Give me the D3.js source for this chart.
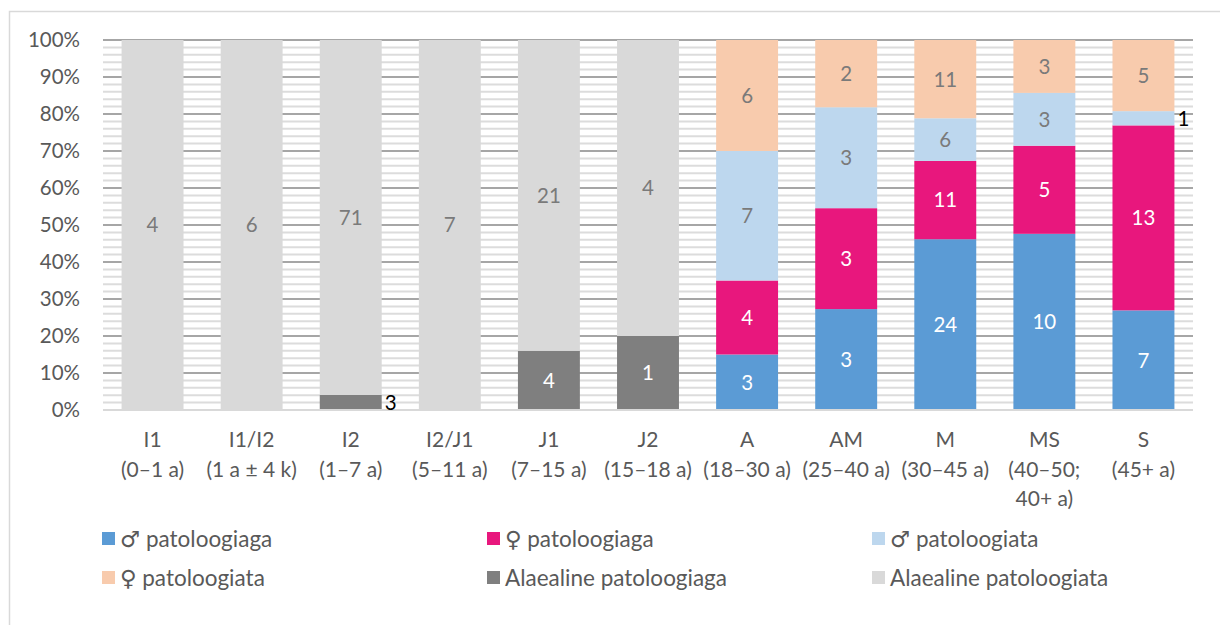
<!DOCTYPE html>
<html>
<head>
<meta charset="utf-8">
<script src="https://cdn.jsdelivr.net/npm/d3@7"></script>
<style>
  html, body { margin: 0; padding: 0; background: #fff; }
  svg { display: block; font-family: Lato, "DejaVu Sans", sans-serif; }
</style>
</head>
<body>
<svg id="chart" width="1220" height="625"></svg>
<script>
// Age groups (two- or three-line axis labels)
const categories = ["I1", "I1/I2", "I2", "I2/J1", "J1", "J2", "A", "AM", "M", "MS", "S"];
const categoryLines = [
  ["I1", "(0–1 a)"],
  ["I1/I2", "(1 a ± 4 k)"],
  ["I2", "(1–7 a)"],
  ["I2/J1", "(5–11 a)"],
  ["J1", "(7–15 a)"],
  ["J2", "(15–18 a)"],
  ["A", "(18–30 a)"],
  ["AM", "(25–40 a)"],
  ["M", "(30–45 a)"],
  ["MS", "(40–50;", "40+ a)"],
  ["S", "(45+ a)"]
];

// Counts per group, one array per series (stacked bottom → top)
const malePathology     = [0, 0, 0, 0, 0, 0, 3, 3, 24, 10, 7];
const femalePathology   = [0, 0, 0, 0, 0, 0, 4, 3, 11, 5, 13];
const maleNoPathology   = [0, 0, 0, 0, 0, 0, 7, 3, 6, 3, 1];
const femaleNoPathology = [0, 0, 0, 0, 0, 0, 6, 2, 11, 3, 5];
const juvPathology      = [0, 0, 3, 0, 4, 1, 0, 0, 0, 0, 0];
const juvNoPathology    = [4, 6, 71, 7, 21, 4, 0, 0, 0, 0, 0];

const seriesNames = [
  "♂ patoloogiaga", "♀ patoloogiaga", "♂ patoloogiata",
  "♀ patoloogiata", "Alaealine patoloogiaga", "Alaealine patoloogiata"
];
const seriesKeys = ["mp", "fp", "mn", "fn", "jp", "jn"];
const seriesValues = [malePathology, femalePathology, maleNoPathology,
                      femaleNoPathology, juvPathology, juvNoPathology];
const seriesColors = ["#5B9BD5", "#E8177D", "#BDD7EE", "#F8CBAD", "#7F7F7F", "#D9D9D9"];
const labelColors  = ["#ffffff", "#ffffff", "#7a7a7a", "#7a7a7a", "#ffffff", "#7a7a7a"];

const yTicks = [0, 0.1, 0.2, 0.3, 0.4, 0.5, 0.6, 0.7, 0.8, 0.9, 1.0];

// Table for d3.stack
const table = categories.map((c, i) => {
  const row = { cat: c };
  seriesKeys.forEach((k, j) => row[k] = seriesValues[j][i]);
  return row;
});

const svg = d3.select("#chart");

// Chart-area frame
svg.append("rect")
  .attr("x", 9.5).attr("y", 11.5)
  .attr("width", 1240).attr("height", 640)
  .attr("fill", "none").attr("stroke", "#d9d9d9").attr("stroke-width", 1.5);

const plot = { left: 103, right: 1193, top: 40, bottom: 410 };

const x = d3.scaleBand()
  .domain(categories)
  .range([plot.left, plot.right])
  .paddingInner(0.375)
  .paddingOuter(0.1875);

const y = d3.scaleLinear().domain([0, 1]).range([plot.bottom, plot.top]);

// Gridlines: minor every 2 %, major every 10 %
const minor = d3.range(0, 101, 2).map(d => d / 100).filter(v => Math.round(v * 100) % 10 !== 0);
svg.append("g").selectAll("line").data(minor).join("line")
  .attr("x1", plot.left).attr("x2", plot.right)
  .attr("y1", d => y(d)).attr("y2", d => y(d))
  .attr("stroke", "#dcdcdc").attr("stroke-width", 2);

svg.append("g").selectAll("line").data(yTicks.filter(v => v > 0)).join("line")
  .attr("x1", plot.left).attr("x2", plot.right)
  .attr("y1", d => y(d)).attr("y2", d => y(d))
  .attr("stroke", "#a6a6a6").attr("stroke-width", 2);

// Y axis labels
const yAxis = d3.axisLeft(y).tickValues(yTicks).tickFormat(d3.format(".0%")).tickSize(0).tickPadding(23);
const gy = svg.append("g").attr("transform", `translate(${plot.left},0)`).call(yAxis);
gy.select(".domain").remove();
gy.selectAll("text").attr("font-size", 20.5).attr("fill", "#595959")
  .attr("font-family", "Lato, 'DejaVu Sans', sans-serif");

// Stacked 100 % bars
const stack = d3.stack().keys(seriesKeys).offset(d3.stackOffsetExpand);
const layers = stack(table);

const gBars = svg.append("g");
layers.forEach((layer, j) => {
  gBars.append("g").attr("fill", seriesColors[j])
    .selectAll("rect").data(layer.filter(d => d[1] - d[0] > 0)).join("rect")
    .attr("x", d => x(d.data.cat))
    .attr("width", x.bandwidth())
    .attr("y", d => y(d[1]))
    .attr("height", d => y(d[0]) - y(d[1]));
});

// Baseline
svg.append("line")
  .attr("x1", plot.left).attr("x2", plot.right)
  .attr("y1", y(0)).attr("y2", y(0))
  .attr("stroke", "#d9d9d9").attr("stroke-width", 2);

// Value labels (counts); thin segments get their label beside the bar
const gLabels = svg.append("g").attr("font-size", 20.5);
layers.forEach((layer, j) => {
  layer.forEach(d => {
    const v = d.data[seriesKeys[j]];
    if (!v) return;
    const h = y(d[0]) - y(d[1]);
    const cy = (y(d[0]) + y(d[1])) / 2;
    const inside = h >= 18;
    gLabels.append("text")
      .attr("x", inside ? x(d.data.cat) + x.bandwidth() / 2 : x(d.data.cat) + x.bandwidth() + 3)
      .attr("y", cy)
      .attr("dy", "0.36em")
      .attr("text-anchor", inside ? "middle" : "start")
      .attr("fill", inside ? labelColors[j] : "#000000")
      .text(v);
  });
});

// Category labels
const gx = svg.append("g").attr("font-size", 21).attr("fill", "#595959");
categories.forEach((c, i) => {
  const t = gx.append("text")
    .attr("x", x(c) + x.bandwidth() / 2)
    .attr("y", 447)
    .attr("text-anchor", "middle");
  categoryLines[i].forEach((line, k) => {
    t.append("tspan")
      .attr("x", x(c) + x.bandwidth() / 2)
      .attr("dy", k === 0 ? 0 : 29.5)
      .text(line);
  });
});

// Legend: 3 columns × 2 rows
const legendCols = [102, 487, 872];
const legendRows = [539, 578];
const gLeg = svg.append("g").attr("font-size", 22.5).attr("fill", "#595959");
seriesNames.forEach((name, j) => {
  const cx = legendCols[j % 3], cy = legendRows[Math.floor(j / 3)];
  gLeg.append("rect")
    .attr("x", cx).attr("y", cy - 7)
    .attr("width", 13).attr("height", 13)
    .attr("fill", seriesColors[j]);
  gLeg.append("text")
    .attr("x", cx + 18).attr("y", cy)
    .attr("dy", "0.36em")
    .text(name);
});
</script>
</body>
</html>
